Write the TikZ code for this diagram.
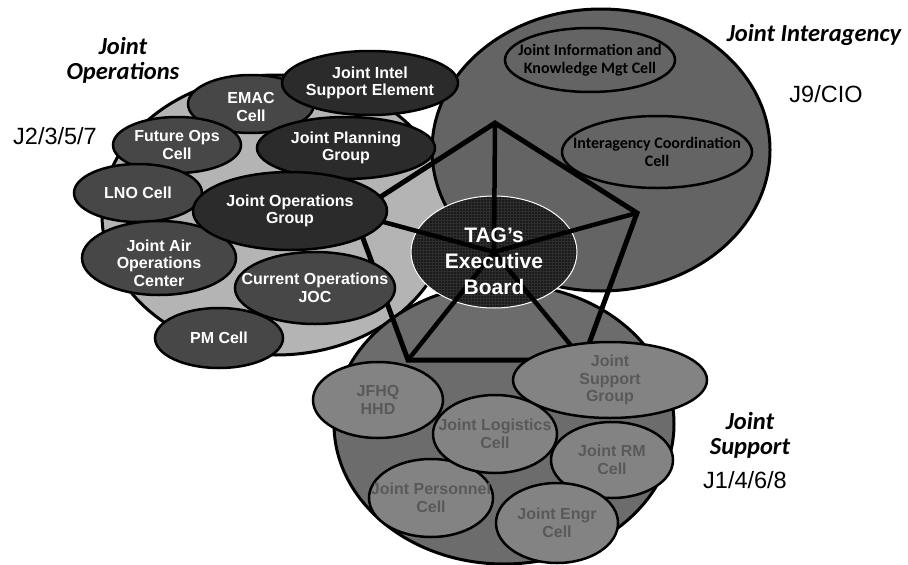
\documentclass[tikz,border=0pt]{standalone}
\usepackage{fontspec}
\setmainfont{Liberation Sans}
\newfontfamily\calfont{Carlito}
\usetikzlibrary{shapes.geometric,patterns}
\definecolor{opsarea}{HTML}{B4B4B4}
\definecolor{iaarea}{HTML}{646464}
\definecolor{suparea}{HTML}{6C6C6C}
\definecolor{celldark}{HTML}{2B2B2B}
\definecolor{cellmid}{HTML}{474747}
\definecolor{supfill}{HTML}{838383}
\definecolor{suptext}{HTML}{595959}
\definecolor{boardfill}{HTML}{1A1A1A}
\definecolor{boardgrid}{HTML}{2E2E2E}
\tikzstyle{area} = [ellipse, draw=black, line width=3pt, inner sep=0pt]
\tikzstyle{cell} = [ellipse, draw=black, line width=2.5pt, inner sep=0pt]
\tikzstyle{celltext} = [align=center, inner sep=0pt, font=\bfseries\fontsize{16}{17.5}\selectfont]
\tikzstyle{opstext} = [celltext, text=white]
\tikzstyle{suptxt} = [celltext, text=suptext]
\tikzstyle{iatext} = [align=center, inner sep=0pt, font=\calfont\bfseries\fontsize{16}{18}\selectfont]
\tikzstyle{arealabel} = [align=center, inner sep=0pt, font=\calfont\bfseries\itshape\fontsize{24.5}{25}\selectfont]
\tikzstyle{jcode} = [inner sep=0pt, font=\fontsize{23.5}{26}\selectfont]
\tikzstyle{spoke} = [line width=4.5pt]
\tikzset{sz/.style 2 args={minimum width=#1pt, minimum height=#2pt}}

\begin{document}
\begin{tikzpicture}[x=1pt, y=-1pt]%
	\useasboundingbox (0,0) rectangle (908,565);%
	\fill[white] (0,0) rectangle (908,565);%
	% the three areas
	\node[area, fill=opsarea, sz={348}{280}] (ops) at (276,215) {};%
	\node[area, fill=iaarea, sz={338}{282}] (ia) at (601,150) {};%
	\node[area, fill=suparea, sz={340}{280}] (sup) at (504,424) {};%
	% executive board and pentagon
	\node[ellipse, draw=white, line width=1pt, sz={166}{112}, preaction={fill=boardfill},
		pattern=grid, pattern color=boardgrid] (board) at (494,252) {};%
	\coordinate (ptop) at (495,123);%
	\coordinate (pright) at (637,213);%
	\coordinate (pbright) at (583,360);%
	\coordinate (pbleft) at (408,360);%
	\coordinate (pleft) at (354,214);%
	\foreach \v in {ptop,pright,pbright,pbleft,pleft}
		\draw[spoke] (board.center) -- (\v);%
	\draw[line width=5pt] (ptop) -- (pright) -- (pbright) -- (pbleft) -- (pleft) -- cycle;%
	\node[align=center, text=white, font=\bfseries\fontsize{21}{26}\selectfont] (boardtxt) at (494,261) {TAG’s\\Executive\\Board};%
	% interagency cells
	\node[cell, fill=iaarea, sz={170}{64}, label={[iatext]center:Joint Information and\\Knowledge Mgt Cell}] (jikm) at (590,60) {};%
	\node[cell, fill=iaarea, sz={190}{72}, label={[iatext]center:Interagency Coordination\\Cell}] (iacc) at (657,152) {};%
	% operations cells
	\node[cell, fill=cellmid, sz={126}{58}, label={[opstext, yshift=-3pt]center:EMAC\\Cell}] (emac) at (251,104) {};%
	\node[cell, fill=cellmid, sz={128}{56}, label={[opstext]center:Future Ops\\Cell}] (fops) at (177,145) {};%
	\node[cell, fill=cellmid, sz={128}{58}, label={[opstext]center:LNO Cell}] (lno) at (138,193) {};%
	\node[cell, fill=cellmid, sz={154}{74}, label={[opstext, yshift=-5pt]center:Joint Air\\Operations\\Center}] (jaoc) at (159,258) {};%
	\node[cell, fill=cellmid, sz={128}{60}, label={[opstext]center:PM Cell}] (pm) at (219,338) {};%
	\node[cell, fill=cellmid, sz={160}{72}, label={[opstext]center:Current Operations\\JOC}] (joc) at (315,288) {};%
	\node[cell, fill=celldark, sz={176}{64}, label={[opstext]center:Joint Intel\\Support Element}] (jise) at (370,83) {};%
	\node[cell, fill=celldark, sz={178}{62}, label={[opstext]center:Joint Planning\\Group}] (jpg) at (346,148) {};%
	\node[cell, fill=celldark, sz={194}{78}, label={[opstext]center:Joint Operations\\Group}] (jog) at (290,211) {};%
	% support cells
	\node[cell, fill=supfill, sz={130}{76}, label={[suptxt]center:JFHQ\\HHD}] (jfhq) at (378,400) {};%
	\node[cell, fill=supfill, sz={124}{78}, label={[suptxt]center:Joint Personnel\\Cell}] (jpers) at (431,498) {};%
	\node[cell, fill=supfill, sz={124}{78}, label={[suptxt]center:Joint Logistics\\Cell}] (jlog) at (495,434) {};%
	\node[cell, fill=supfill, sz={122}{76}, label={[suptxt]center:Joint RM\\Cell}] (jrm) at (612,460) {};%
	\node[cell, fill=supfill, sz={122}{80}, label={[suptxt]center:Joint Engr\\Cell}] (jengr) at (557,523) {};%
	\node[cell, fill=supfill, sz={194}{76}, label={[suptxt]center:Joint\\Support\\Group}] (jsg) at (610,380) {};%
	% area labels
	\node[arealabel] (opslbl) at (123,60) {Joint\\Operations};%
	\node[arealabel] (ialbl) at (814,35) {Joint Interagency};%
	\node[arealabel] (suplbl) at (750,435) {Joint\\Support};%
	\node[jcode] (opscode) at (55,136) {J2/3/5/7};%
	\node[jcode] (iacode) at (826,94) {J9/CIO};%
	\node[jcode] (supcode) at (745,480) {J1/4/6/8};%
\end{tikzpicture}
\end{document}
